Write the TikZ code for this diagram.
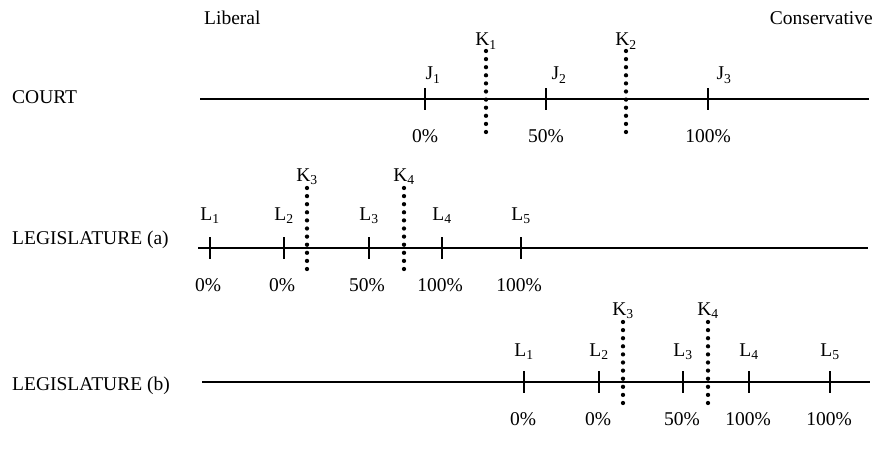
\documentclass[tikz,border=0pt]{standalone}
\usepackage{fontspec}
\setmainfont{Liberation Serif}
\begin{document}
\begin{tikzpicture}[x=1pt,y=-1pt,
  txt/.style={inner sep=0pt,anchor=base,font=\fontsize{19.5}{23}\selectfont},
  axis/.style={line width=1.4pt},
  tick/.style={line width=1.4pt},
  kline/.style={line width=4.3pt,line cap=round,dash pattern=on 0pt off 8.1pt}]
\useasboundingbox (0,0) rectangle (878,460);
% titles
\node[txt,anchor=base west] (lib) at (204,25) {Liberal};
\node[txt,anchor=base east] (con) at (873,25) {Conservative};
% ---------- COURT ----------
\node[txt,anchor=base west] (court) at (12,103) {COURT};
\coordinate (cs) at (200,99);
\coordinate (ce) at (869,99);
\draw[axis] (cs) -- (ce);
\foreach \n/\x in {1/425,2/546,3/708}{
  \coordinate (cjt\n) at (\x,88);
  \coordinate (cjb\n) at (\x,110);
  \draw[tick] (cjt\n) -- (cjb\n);
}
\node[txt] (J1) at (433,80) {J\textsubscript{1}};
\node[txt] (J2) at (559,80) {J\textsubscript{2}};
\node[txt] (J3) at (724,80) {J\textsubscript{3}};
\node[txt] (cp1) at (425,142) {0\%};
\node[txt] (cp2) at (546,142) {50\%};
\node[txt] (cp3) at (708,142) {100\%};
\foreach \n/\x in {1/486,2/626}{
  \coordinate (ckt\n) at (\x,51);
  \coordinate (ckb\n) at (\x,132);
  \draw[kline] (ckt\n) -- (ckb\n);
  \node[txt] (K\n) at (\x,46) {K\textsubscript{\n}};
}
% ---------- LEGISLATURE (a) ----------
\node[txt,anchor=base west] (lega) at (12,244) {LEGISLATURE (a)};
\coordinate (as) at (198,248);
\coordinate (ae) at (868,248);
\draw[axis] (as) -- (ae);
\foreach \n/\x/\p in {1/210/0\%,2/284/0\%,3/369/50\%,4/442/100\%,5/521/100\%}{
  \coordinate (alt\n) at (\x,237);
  \coordinate (alb\n) at (\x,259);
  \draw[tick] (alt\n) -- (alb\n);
  \node[txt] (aL\n) at (\x,220) {L\textsubscript{\n}};
  \node[txt] (ap\n) at (\x-2,291) {\p};
}
\foreach \n/\x in {3/307,4/404}{
  \coordinate (akt\n) at (\x,188);
  \coordinate (akb\n) at (\x,270);
  \draw[kline] (akt\n) -- (akb\n);
  \node[txt] (aK\n) at (\x,181) {K\textsubscript{\n}};
}
% ---------- LEGISLATURE (b) ----------
\node[txt,anchor=base west] (legb) at (12,390) {LEGISLATURE (b)};
\coordinate (bs) at (202,382);
\coordinate (be) at (870,382);
\draw[axis] (bs) -- (be);
\foreach \n/\x/\p in {1/524/0\%,2/599/0\%,3/683/50\%,4/749/100\%,5/830/100\%}{
  \coordinate (blt\n) at (\x,371);
  \coordinate (blb\n) at (\x,393);
  \draw[tick] (blt\n) -- (blb\n);
  \node[txt] (bL\n) at (\x,356) {L\textsubscript{\n}};
  \node[txt] (bp\n) at (\x-1,425) {\p};
}
\foreach \n/\x in {3/623,4/708}{
  \coordinate (bkt\n) at (\x,322);
  \coordinate (bkb\n) at (\x,405);
  \draw[kline] (bkt\n) -- (bkb\n);
  \node[txt] (bK\n) at (\x,315) {K\textsubscript{\n}};
}
\end{tikzpicture}
\end{document}
